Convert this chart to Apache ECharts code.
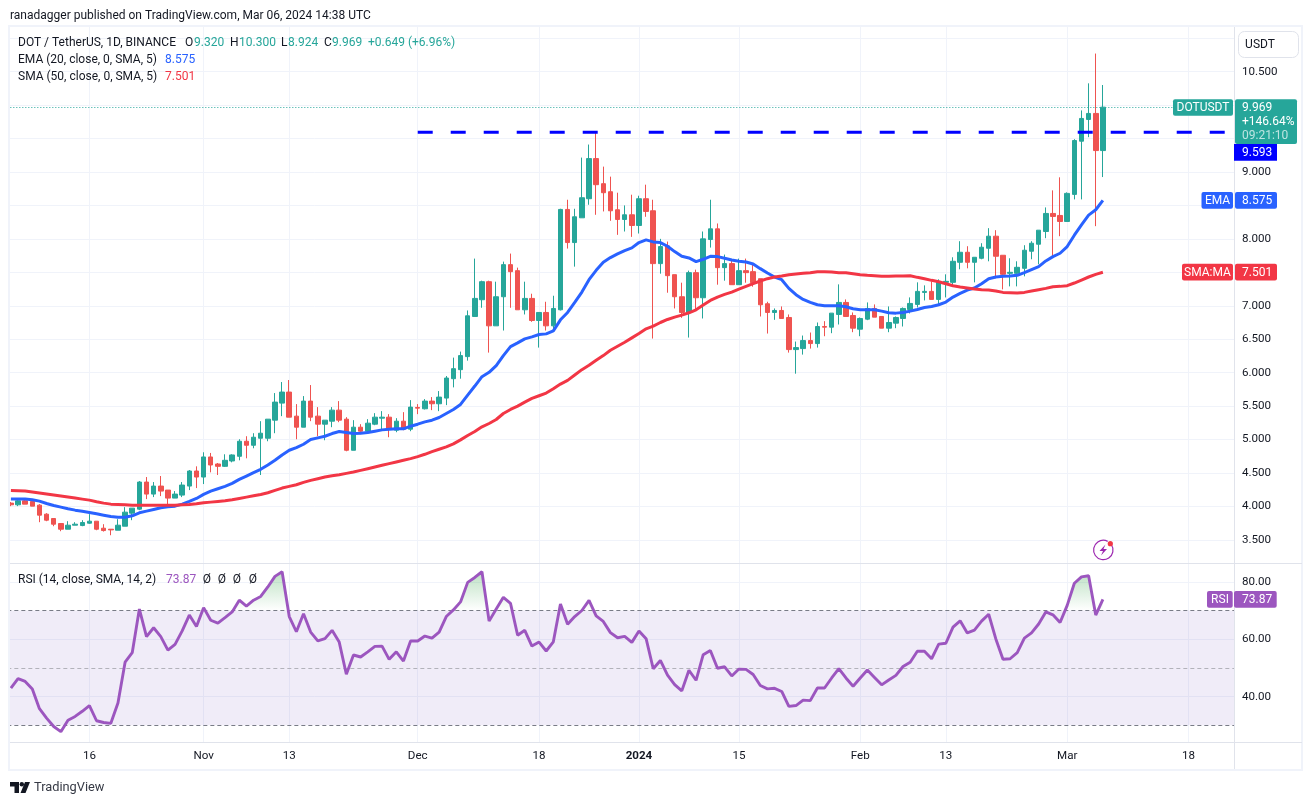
<!DOCTYPE html>
<html><head><meta charset="utf-8"><title>DOT / TetherUS</title>
<style>html,body{margin:0;padding:0;background:#fff}#c{width:1312px;height:805px}</style>
<script src="https://cdn.jsdelivr.net/npm/echarts@6/dist/echarts.min.js"></script>
</head><body><div id="c"></div>
<script>
const opens=[4.05,4.025,4.085,4.075,4.02,3.885,3.82,3.745,3.66,3.72,
3.715,3.75,3.78,3.675,3.66,3.645,3.705,3.90,3.96,4.365,
4.185,4.305,4.245,4.125,4.17,4.305,4.53,4.44,4.74,4.635,
4.60,4.68,4.75,4.975,4.915,5.02,5.02,5.29,5.545,5.71,
5.35,5.185,5.575,5.35,5.23,5.275,5.44,5.305,4.84,5.185,
5.125,5.23,5.32,5.335,5.14,5.275,5.155,5.48,5.46,5.575,
5.535,5.62,5.91,6.045,6.24,6.84,7.09,7.36,6.70,7.135,
7.615,7.525,6.94,7.11,6.78,6.90,6.70,6.94,8.44,7.945,
8.315,8.60,9.2,8.825,8.705,8.435,8.29,8.36,8.20,8.60,
8.42,7.63,7.895,7.465,7.135,6.90,7.495,7.12,7.99,8.15,
7.57,7.63,7.315,7.525,7.51,7.405,7.03,6.90,6.93,6.825,
6.345,6.36,6.48,6.435,6.69,6.68,6.87,7.05,6.855,6.65,
6.80,6.96,6.84,6.665,6.74,6.81,6.945,7.02,7.20,7.215,
7.095,7.35,7.35,7.65,7.80,7.65,7.71,7.86,8.04,7.755,
7.485,7.485,7.56,7.815,7.92,8.11,8.38,8.35,8.26,8.665,
9.46,9.785,9.875,9.32];
const closes=[4.025,4.085,4.035,4.005,3.87,3.795,3.735,3.66,3.72,3.735,
3.76,3.78,3.66,3.64,3.65,3.72,3.915,3.975,4.365,4.185,
4.305,4.23,4.125,4.185,4.32,4.53,4.44,4.74,4.62,4.60,
4.69,4.77,4.975,4.915,5.035,5.095,5.305,5.56,5.71,5.335,
5.185,5.575,5.335,5.23,5.29,5.44,5.29,4.84,5.185,5.125,
5.245,5.335,5.335,5.155,5.275,5.155,5.485,5.47,5.575,5.535,
5.635,5.92,6.06,6.255,6.85,7.11,7.36,6.70,7.135,7.615,
7.51,6.94,7.11,6.78,6.90,6.70,6.96,8.44,7.945,8.33,
8.615,9.2,8.81,8.69,8.42,8.29,8.36,8.20,8.60,8.41,
7.63,7.885,7.45,7.135,6.90,7.495,7.12,8.00,8.15,7.57,
7.63,7.315,7.525,7.495,7.345,7.015,6.90,6.93,6.81,6.345,
6.375,6.48,6.435,6.69,6.68,6.89,7.05,6.84,6.665,6.81,
6.96,6.83,6.665,6.75,6.825,6.96,7.035,7.215,7.215,7.095,
7.35,7.365,7.665,7.80,7.65,7.725,7.875,8.04,7.74,7.47,
7.50,7.575,7.83,7.935,8.13,8.38,8.335,8.26,8.68,9.47,
9.80,9.875,9.32,9.969];
const highs=[4.065,4.10,4.12,4.085,4.035,3.90,3.82,3.75,3.78,3.765,
3.795,3.885,3.78,3.735,3.66,3.81,3.99,3.975,4.38,4.44,
4.365,4.455,4.245,4.23,4.365,4.545,4.60,4.81,4.80,4.65,
4.78,4.78,5.005,5.05,5.095,5.275,5.305,5.695,5.86,5.89,
5.53,5.65,5.815,5.485,5.29,5.485,5.575,5.335,5.29,5.23,
5.305,5.395,5.425,5.38,5.32,5.41,5.59,5.53,5.605,5.635,
5.725,5.95,6.225,6.315,6.93,7.705,7.375,7.375,7.36,7.66,
7.78,7.57,7.36,7.18,6.90,7.06,7.15,8.45,8.585,8.45,
9.215,9.41,9.60,9.08,8.93,8.69,8.50,8.66,8.645,8.81,
8.585,8.00,7.96,7.465,7.345,7.525,7.54,8.11,8.585,8.23,
7.765,7.69,7.705,7.705,7.615,7.405,7.06,6.96,6.99,6.87,
6.465,6.555,6.60,6.75,6.77,6.89,7.32,7.095,6.90,6.825,
7.05,7.02,6.84,6.99,6.84,6.975,7.125,7.35,7.305,7.365,
7.395,7.47,7.725,7.965,7.89,7.725,7.935,8.16,8.13,7.755,
7.71,7.665,7.905,7.965,8.13,8.47,8.725,8.92,8.695,9.49,
9.92,10.325,10.77,10.30];
const lows=[4.005,4.005,4.035,4.005,3.765,3.78,3.705,3.63,3.66,3.72,
3.705,3.74,3.645,3.625,3.57,3.645,3.705,3.795,3.945,4.11,
4.14,4.155,4.035,4.125,4.14,4.245,4.275,4.335,4.51,4.47,
4.59,4.66,4.69,4.72,4.87,4.47,4.975,5.095,5.35,5.335,
5.005,5.185,5.275,5.05,4.99,5.185,5.26,4.825,4.84,5.08,
5.11,5.215,5.155,5.035,5.11,5.14,5.125,5.38,5.45,5.44,
5.425,5.515,5.78,5.91,6.18,6.84,6.97,6.30,6.70,6.63,
6.97,6.94,6.87,6.76,6.375,6.63,6.64,6.93,7.855,7.585,
8.315,8.51,8.36,8.41,8.27,8.06,8.11,8.03,8.08,8.33,
6.51,7.48,7.195,6.96,6.82,6.525,6.94,6.81,7.87,7.315,
7.375,7.315,7.315,7.345,7.285,6.84,6.585,6.79,6.81,6.30,
5.985,6.27,6.36,6.375,6.545,6.59,6.72,6.84,6.605,6.545,
6.785,6.83,6.665,6.605,6.665,6.69,6.885,6.975,7.08,7.095,
7.005,7.125,7.29,7.545,7.56,7.35,7.695,7.665,7.41,7.245,
7.29,7.29,7.44,7.695,7.62,8.01,7.725,8.04,8.26,8.59,
8.59,9.52,8.19,8.924];
const ema20=[4.11,4.11,4.11,4.10,4.08,4.045,4.015,3.99,3.965,3.945,
3.93,3.91,3.89,3.87,3.85,3.84,3.84,3.86,3.905,3.93,
3.955,3.98,3.995,4.005,4.035,4.075,4.12,4.18,4.23,4.265,
4.30,4.345,4.405,4.455,4.505,4.555,4.62,4.69,4.77,4.84,
4.88,4.93,5.00,5.025,5.05,5.09,5.12,5.105,5.09,5.095,
5.105,5.125,5.145,5.155,5.16,5.16,5.20,5.23,5.265,5.29,
5.33,5.39,5.45,5.525,5.665,5.80,5.94,6.005,6.105,6.255,
6.39,6.445,6.505,6.535,6.57,6.58,6.625,6.79,6.90,7.05,
7.205,7.39,7.53,7.65,7.72,7.775,7.825,7.865,7.945,7.985,
7.955,7.945,7.89,7.81,7.74,7.715,7.66,7.695,7.74,7.735,
7.71,7.685,7.665,7.655,7.625,7.555,7.49,7.43,7.39,7.26,
7.165,7.095,7.05,7.015,7.00,7.00,7.00,6.985,6.955,6.94,
6.94,6.94,6.92,6.895,6.89,6.90,6.92,6.945,6.975,6.99,
7.015,7.055,7.13,7.185,7.235,7.265,7.33,7.405,7.43,7.44,
7.445,7.455,7.495,7.54,7.585,7.67,7.735,7.785,7.885,8.055,
8.21,8.355,8.435,8.575];
const sma50=[4.24,4.235,4.23,4.215,4.20,4.185,4.17,4.155,4.14,4.125,
4.11,4.095,4.07,4.05,4.035,4.03,4.025,4.02,4.02,4.02,
4.02,4.02,4.02,4.02,4.025,4.03,4.04,4.055,4.065,4.075,
4.085,4.10,4.12,4.14,4.16,4.18,4.205,4.24,4.275,4.30,
4.325,4.36,4.39,4.415,4.44,4.46,4.475,4.495,4.515,4.54,
4.565,4.59,4.615,4.64,4.665,4.69,4.715,4.745,4.78,4.82,
4.855,4.89,4.935,4.995,5.06,5.12,5.19,5.24,5.30,5.39,
5.45,5.50,5.56,5.615,5.655,5.695,5.76,5.83,5.885,5.965,
6.045,6.11,6.185,6.255,6.335,6.395,6.455,6.52,6.585,6.655,
6.695,6.75,6.795,6.83,6.86,6.895,6.94,7.01,7.08,7.13,
7.17,7.205,7.25,7.29,7.33,7.37,7.405,7.43,7.445,7.465,
7.475,7.485,7.495,7.51,7.51,7.505,7.495,7.495,7.48,7.465,
7.455,7.45,7.44,7.44,7.445,7.445,7.45,7.425,7.405,7.38,
7.36,7.33,7.30,7.28,7.265,7.25,7.24,7.235,7.22,7.20,
7.195,7.19,7.20,7.22,7.24,7.26,7.285,7.29,7.30,7.34,
7.385,7.43,7.47,7.501];
const rsi=[43.0,46.3,45.3,42.7,35.8,32.5,29.6,27.8,31.8,33.1,
34.9,36.9,31.6,31.0,30.7,37.8,52.0,55.3,70.5,60.9,
64.0,60.9,56.2,58.2,62.9,68.4,64.4,71.0,66.6,65.6,
67.5,69.5,73.6,71.5,73.6,74.9,78.2,81.9,83.5,67.9,
62.6,68.9,62.5,59.4,60.2,63.1,59.0,47.8,54.5,53.8,
55.6,57.5,57.6,53.0,55.6,52.4,59.4,59.4,61.1,60.4,
62.5,67.9,70.2,73.0,79.8,81.5,83.5,66.3,70.5,74.6,
72.5,61.4,63.1,57.6,59.0,55.9,59.1,72.3,65.2,67.9,
70.0,73.5,68.1,66.2,62.3,60.5,61.0,58.9,62.9,60.2,
49.7,52.6,47.5,44.2,42.0,49.2,45.7,54.6,56.1,49.9,
50.4,47.2,49.6,49.5,47.7,43.9,42.7,42.9,41.8,36.6,
36.9,38.8,38.6,43.0,43.0,46.5,49.8,46.5,43.6,46.5,
49.3,46.7,44.1,45.8,47.4,50.5,52.0,55.8,55.8,53.2,
58.3,58.6,64.2,66.4,62.2,63.2,66.3,68.7,60.1,53.0,
53.2,55.3,60.4,62.2,65.3,69.5,68.5,65.8,71.8,79.5,
81.7,82.1,68.4,73.87];
const resistanceLevel=9.593, resistanceStart=57;
const priceTicks=[3.5,4,4.5,5,5.5,6,6.5,7,7.5,8,8.5,9,9.5,10,10.5,11];
const rsiTicks=[40,60,80];
const rsiBands=[70,50,30];
const timeTicks={11:'16',27:'Nov',39:'13',57:'Dec',74:'18',88:'2024',102:'15',119:'Feb',131:'13',148:'Mar',165:'18'};
const barCount=172;
const categories=[];
for(let i=0;i<barCount;i++){categories.push(new Date(Date.UTC(2023,9,5+i)).toISOString().slice(0,10));}
const lastPrice=9.969, emaLast=8.575, smaLast=7.501, rsiLast=73.87;

const FONT='Roboto,sans-serif';
const UP='#26a69a',DOWN='#ef5350',GRID='#f0f3fa',EMA='#2962ff',SMA='#f23645',RSI='#9c56bf',INK='#131722';
const PX0=7.33,PW=1227.6,PT=27,PH=536,RT=564,RH=178;
const AXFS=11.6;

const candleData=opens.map((o,i)=>[o,closes[i],lows[i],highs[i]]);
const resistance=categories.map((_,i)=>i>=resistanceStart?resistanceLevel:null);
const rsiOver=rsi.map((v,i)=>{
  if(v>=72) return v;
  if((rsi[i-1]>=72)||(rsi[i+1]>=72)) return 70;
  return null;
});
const tickOn=(i)=>timeTicks[i]!==undefined;

const xAxisBase={type:'category',data:categories,boundaryGap:true,axisLine:{show:false},axisTick:{show:false},
  splitLine:{show:true,interval:tickOn,alignWithLabel:true,lineStyle:{color:GRID,width:1}}};

const chart=echarts.init(document.getElementById('c'),null,{renderer:'canvas'});
chart.setOption({
  animation:false,
  backgroundColor:'#ffffff',
  textStyle:{fontFamily:FONT},
  grid:[{left:PX0,width:PW,top:PT,height:PH,containLabel:false},{left:PX0,width:PW,top:RT,height:RH,containLabel:false}],
  xAxis:[
    Object.assign({},xAxisBase,{gridIndex:0,axisLabel:{show:false}}),
    Object.assign({},xAxisBase,{gridIndex:1,axisLabel:{show:true,interval:tickOn,margin:8,color:INK,fontSize:AXFS,fontFamily:FONT,hideOverlap:false,
      formatter:(v,i)=>{const t=timeTicks[i];return t==='2024'?'{b|2024}':(t||'');},
      rich:{b:{fontWeight:'bold',fontSize:AXFS,color:INK,fontFamily:FONT}}}})
  ],
  yAxis:[
    {type:'value',gridIndex:0,position:'right',min:3.155,max:11.167,scale:true,
     axisLine:{show:false},axisTick:{show:false,customValues:priceTicks},
     axisLabel:{customValues:priceTicks,formatter:v=>v.toFixed(3),color:INK,fontSize:AXFS,margin:7,padding:[2,0,0,0],fontFamily:FONT,hideOverlap:false,showMinLabel:true,showMaxLabel:true},
     splitLine:{show:true,lineStyle:{color:GRID,width:1}}},
    {type:'value',gridIndex:1,position:'right',min:24.2,max:86.2,scale:true,
     axisLine:{show:false},axisTick:{show:false,customValues:rsiTicks},
     axisLabel:{customValues:rsiTicks,formatter:v=>v.toFixed(2),color:INK,fontSize:AXFS,margin:7,padding:[2,0,0,0],fontFamily:FONT},
     splitLine:{show:true,lineStyle:{color:GRID,width:1}}}
  ],
  series:[
    {name:'DOTUSDT',type:'candlestick',xAxisIndex:0,yAxisIndex:0,data:candleData,barWidth:5,z:3,
     itemStyle:{color:UP,color0:DOWN,borderColor:UP,borderColor0:DOWN,borderWidth:1},
     markLine:{silent:true,symbol:'none',label:{show:false},animation:false,
       lineStyle:{color:UP,type:[1,2],width:1},data:[{yAxis:lastPrice}]}},
    {name:'EMA',type:'line',xAxisIndex:0,yAxisIndex:0,data:ema20,showSymbol:false,smooth:false,z:5,lineStyle:{color:EMA,width:3}},
    {name:'SMA',type:'line',xAxisIndex:0,yAxisIndex:0,data:sma50,showSymbol:false,smooth:false,z:5,lineStyle:{color:SMA,width:3}},
    {name:'Resistance',type:'line',xAxisIndex:0,yAxisIndex:0,data:resistance,showSymbol:false,connectNulls:false,z:6,
     lineStyle:{color:'#0000ff',width:3,type:[15,18]}},
    {name:'RSI overbought',type:'line',xAxisIndex:1,yAxisIndex:1,data:rsiOver,showSymbol:false,connectNulls:false,z:2,
     lineStyle:{width:0,opacity:0},
     areaStyle:{origin:70,color:new echarts.graphic.LinearGradient(0,0,0,1,[{offset:0,color:'rgba(46,160,67,0.46)'},{offset:1,color:'rgba(46,160,67,0)'}])}},
    {name:'RSI',type:'line',xAxisIndex:1,yAxisIndex:1,data:rsi,showSymbol:false,smooth:false,z:5,
     lineStyle:{color:RSI,width:2.9},
     markArea:{silent:true,itemStyle:{color:'rgba(126,87,194,0.115)'},label:{show:false},data:[[{yAxis:rsiBands[0]},{yAxis:rsiBands[2]}]]},
     markLine:{silent:true,symbol:'none',label:{show:false},animation:false,
       data:[
        {yAxis:rsiBands[0],lineStyle:{color:'#787b86',type:[4,3],width:1}},
        {yAxis:rsiBands[1],lineStyle:{color:'#b2b2ba',type:[4,3],width:1}},
        {yAxis:rsiBands[2],lineStyle:{color:'#787b86',type:[4,3],width:1}}]}}
  ]
});

const T=(x,y,text,color,size,extra)=>Object.assign({type:'text',x:x,y:y,z:100,silent:true,
  style:{text:text,fill:color||INK,font:(size||12)+'px '+FONT,textVerticalAlign:'middle',textBaseline:'middle',textAlign:'left'}},extra||{});
const R=(x,y,w,h,fill,r)=>({type:'rect',z:99,silent:true,shape:{x:x,y:y,width:w,height:h,r:r||0},style:{fill:fill}});
const yP=v=>chart.convertToPixel({yAxisIndex:0},v);
const yR=v=>chart.convertToPixel({yAxisIndex:1},v);
const CT=(x,y,text,color,size)=>{const t=T(x,y,text,color,size);t.style.textAlign='center';return t;};
const G=[];
// frame and separators
G.push({type:'rect',z:98,silent:true,shape:{x:9,y:26,width:1293,height:744},style:{fill:'none',stroke:GRID,lineWidth:2}});
G.push({type:'rect',z:98,silent:true,shape:{x:0,y:27,width:8,height:742},style:{fill:'#fff'}});
G.push({type:'line',z:98,silent:true,shape:{x1:10,y1:563.5,x2:1302,y2:563.5},style:{stroke:'#e0e3eb',lineWidth:1}});
G.push({type:'line',z:98,silent:true,shape:{x1:10,y1:742.5,x2:1302,y2:742.5},style:{stroke:'#e0e3eb',lineWidth:1}});
G.push({type:'line',z:98,silent:true,shape:{x1:1234.5,y1:27,x2:1234.5,y2:769},style:{stroke:'#e0e3eb',lineWidth:1}});
// header
G.push(T(10,15.5,'ranadagger published on TradingView.com, Mar 06, 2024 14:38 UTC',INK,12));
G.push(T(18,42.5,'DOT / TetherUS, 1D, BINANCE',INK,12));
[[185,'O'],[230,'H'],[281,'L'],[324,'C']].forEach(a=>G.push(T(a[0],42.5,a[1],INK,12)));
[[194,'9.320'],[239,'10.300'],[288,'8.924'],[332,'9.969'],[368,'+0.649 (+6.96%)']].forEach(a=>G.push(T(a[0],42.5,a[1],UP,12)));
G.push(T(18,59.5,'EMA (20, close, 0, SMA, 5)',INK,12));
G.push(T(165,59.5,emaLast.toFixed(3),EMA,12));
G.push(T(18,76.5,'SMA (50, close, 0, SMA, 5)',INK,12));
G.push(T(165,76.5,smaLast.toFixed(3),SMA,12));
G.push(T(18,579.5,'RSI (14, close, SMA, 14, 2)',INK,12));
G.push(T(166,579.5,rsiLast.toFixed(2),RSI,12));
[207,222,237,253].forEach(x=>G.push(CT(x,579.5,'Ø',INK,12)));
// USDT button
G.push({type:'rect',z:99,silent:true,shape:{x:1238.5,y:31.5,width:60,height:26,r:6},style:{fill:'#fff',stroke:'#e0e3eb',lineWidth:1}});
G.push(CT(1260,45,'USDT',INK,12));
// price tags
const yL=yP(lastPrice),yE=yP(emaLast),yS=yP(smaLast),yRs=yR(rsiLast);
const yB=yL+36.8+8.4;
G.push(R(1173,yL-8,60,16.6,UP,2));G.push(CT(1203,yL+.5,'DOTUSDT','#fff',12));
G.push(R(1235,yL-8,62,44.8,UP,2));
G.push(T(1242,yL+.5,lastPrice.toFixed(3),'#fff',12));
G.push(T(1242,yL+14.9,'+146.64%','#fff',12));
G.push(T(1242,yL+28.9,'09:21:10','rgba(255,255,255,0.7)',12));
G.push(R(1234,yB-8.4,43,16.7,'#0000ff',0));G.push(T(1242,yB+.5,resistanceLevel.toFixed(3),'#fff',12));
G.push(R(1201.5,yE-8.4,31.5,16.7,EMA,2));G.push(CT(1217.5,yE+.5,'EMA','#fff',12));
G.push(R(1235,yE-8.4,42,16.7,EMA,2));G.push(T(1242,yE+.5,emaLast.toFixed(3),'#fff',12));
G.push(R(1182,yS-8.4,51,16.7,SMA,2));G.push(CT(1207.5,yS+.5,'SMA:MA','#fff',12));
G.push(R(1235,yS-8.4,42,16.7,SMA,2));G.push(T(1242,yS+.5,smaLast.toFixed(3),'#fff',12));
G.push(R(1207,yRs-8.4,25.7,16.7,RSI,2));G.push(CT(1220,yRs+.5,'RSI','#fff',12));
G.push(R(1234,yRs-8.4,42.7,16.7,RSI,2));G.push(T(1242,yRs+.5,rsiLast.toFixed(2),'#fff',12));
// lightning icon
G.push({type:'arc',z:99,silent:true,shape:{cx:1103.3,cy:550,r:9.7,startAngle:-0.6,endAngle:-1.1,clockwise:true},style:{fill:'none',stroke:'#9c27b0',lineWidth:1.2}});
G.push({type:'polygon',z:99,silent:true,shape:{points:[[1105.5,544.5],[1099.5,551],[1103,551],[1101,555.5],[1107,549],[1103.5,549]]},style:{fill:'#9c27b0'}});
G.push({type:'circle',z:99,silent:true,shape:{cx:1110.3,cy:543.7,r:2.6},style:{fill:'#f23645'}});
// footer logo
G.push({type:'polygon',z:99,silent:true,shape:{points:[[10,782],[19,782],[19,793],[14.5,793],[14.5,786.5],[10,786.5]]},style:{fill:'#131722'}});
G.push({type:'circle',z:99,silent:true,shape:{cx:21.8,cy:784.3,r:2.2},style:{fill:'#131722'}});
G.push({type:'polygon',z:99,silent:true,shape:{points:[[25,782],[30,782],[25.5,793],[20.5,793]]},style:{fill:'#131722'}});
G.push(T(34,787.5,'TradingView','#363a45',12.8));
chart.setOption({graphic:{elements:G}});
</script></body></html>
